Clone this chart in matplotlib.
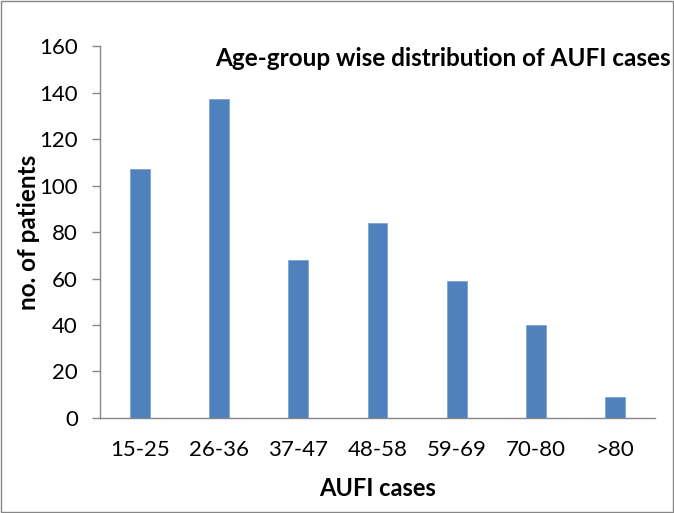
import matplotlib
matplotlib.use("Agg")
import matplotlib.pyplot as plt
from matplotlib.patches import Rectangle

# age groups and patient counts
age_groups = ["15-25", "26-36", "37-47", "48-58", "59-69", "70-80", ">80"]
patients = [107, 137, 68, 84, 59, 40, 9]
y_ticks = [0, 20, 40, 60, 80, 100, 120, 140, 160]

plt.rcParams["font.family"] = ["Lato", "DejaVu Sans"]

fig = plt.figure(figsize=(6.74, 5.13), dpi=100)
ax = fig.add_axes([0.1484, 0.1852, 0.8234, 0.7251])

x = list(range(len(age_groups)))
ax.bar(x, patients, width=0.25, color="#4F81BD", edgecolor="#7FA3D4", linewidth=0.6)

ax.set_xlim(-0.5, len(age_groups) - 0.5)
ax.set_ylim(0, 160)
ax.set_yticks(y_ticks)
ax.set_xticks(x)
ax.set_xticklabels(age_groups)

for side in ("top", "right"):
    ax.spines[side].set_visible(False)
for side in ("left", "bottom"):
    ax.spines[side].set_color("#868686")
    ax.spines[side].set_linewidth(1.0)

ax.tick_params(axis="y", length=6, width=1, color="#868686", pad=10, labelsize=16)
ax.tick_params(axis="x", length=0, pad=16, labelsize=16)

ax.set_xlabel("AUFI cases", fontsize=17, fontweight="bold", labelpad=12)
ax.set_ylabel("no. of patients", fontsize=17.5, fontweight="bold")
ax.yaxis.set_label_coords(-0.108, 0.5)

# title sits right up against the border, as in the original
fig.text(0.319, 0.885, "Age-group wise distribution of AUFI cases",
         fontsize=17.5, fontweight="bold", va="center", ha="left")

fig.patches.append(Rectangle((0.002, 0.002), 0.996, 0.996, transform=fig.transFigure,
                             fill=False, edgecolor="#868686", linewidth=1.0))

fig.savefig("out.png", dpi=100)
